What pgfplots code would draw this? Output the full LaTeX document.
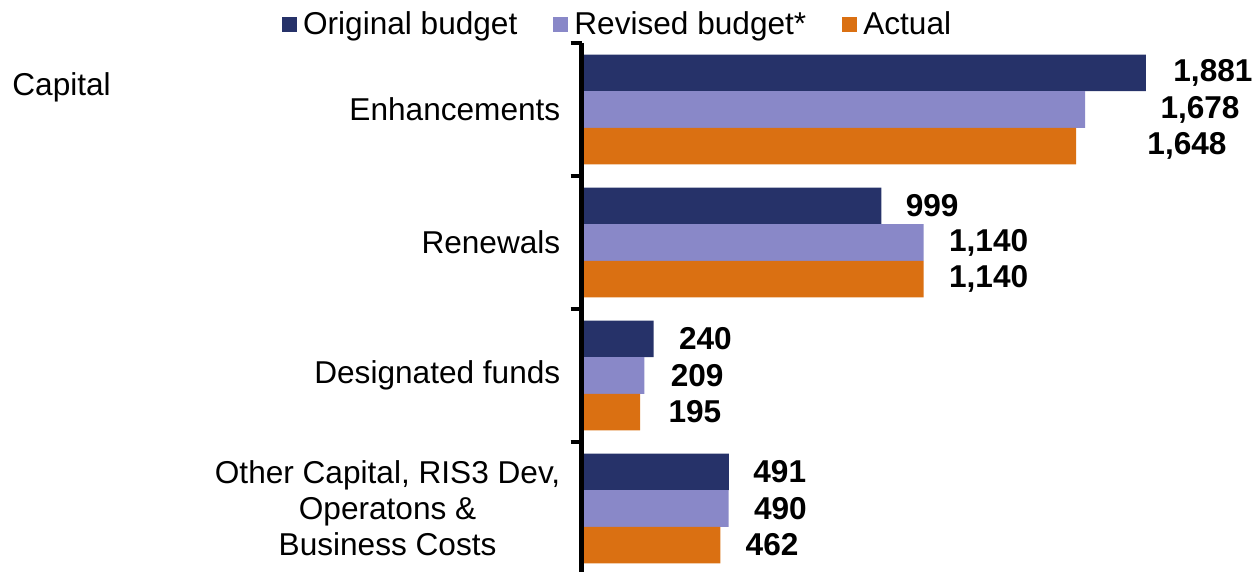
\documentclass[border=0pt]{standalone}
\usepackage{fontspec}
\setmainfont{Liberation Sans}
\usepackage{pgfplots}
\usepackage{pgfplotstable}
\pgfplotsset{compat=1.18}

\definecolor{orig}{RGB}{38,50,105}
\definecolor{revised}{RGB}{137,136,200}
\definecolor{actual}{RGB}{218,112,18}

% y: 3 = Enhancements ... 0 = Other; dx = label gap in pt
\pgfplotstableread{
y x dx
3 1881 13.5
2 999 12
1 240 12.5
0 491 12
}\origdata
\pgfplotstableread{
y x dx
3 1678 37.5
2 1140 12.5
1 209 13
0 490 12.5
}\reviseddata
\pgfplotstableread{
y x dx
3 1648 35.5
2 1140 12.5
1 195 14
0 462 12.5
}\actualdata

\newcommand{\lblfont}{\fontsize{15.8}{18}\selectfont}

\begin{document}
\begin{tikzpicture}
\begin{axis}[
name=ax,
scale only axis,
width=330pt, height=266pt,
xmin=0, xmax=2200,
ymin=-0.5, ymax=3.5,
axis on top,
axis x line=none,
axis y line*=left,
axis line style={line width=2.2pt, black},
every outer y axis line/.append style={line width=2.2pt, black},
xbar,
bar width=18.3pt,
clip=false,
ytick={0,1,2,3},
yticklabels={{Other Capital, RIS3 Dev,\\Operatons \&\\Business Costs},Designated funds,Renewals,Enhancements},
yticklabel style={font=\lblfont, align=center, inner sep=0pt, xshift=-10.5pt},
major tick length=0pt,
minor ytick={-0.5,0.5,1.5,2.5,3.5},
minor tick length=5.5pt,
tick align=outside,
tick style={line width=2pt, black},
minor tick style={line width=2pt, black},
point meta=x,
nodes near coords,
visualization depends on={\thisrow{dx} \as \dx},
every node near coord/.append style={font=\lblfont\bfseries, anchor=west, inner sep=0pt, xshift=\dx pt, /pgf/number format/assume math mode=true},
legend columns=3,
legend style={at={(axis description cs:0,1)}, anchor=south west, xshift=-150pt, yshift=1pt,
  draw=none, fill=none, font=\lblfont, inner sep=0pt,
  nodes={inner ysep=1.5pt, inner xsep=3pt},
  /tikz/every even column/.append style={column sep=15pt}},
legend image code/.code={\fill[#1] (0pt,-3.75pt) rectangle (7.5pt,3.75pt);},
]
\addplot[fill=orig, draw=none, bar shift=18.3pt] table[x=x, y=y] {\origdata};
\addplot[fill=revised, draw=none, bar shift=0pt] table[x=x, y=y] {\reviseddata};
\addplot[fill=actual, draw=none, bar shift=-18.3pt] table[x=x, y=y] {\actualdata};
\legend{Original budget, Revised budget*, Actual}
\end{axis}
\node[anchor=west, inner sep=0pt, font=\lblfont] at ([xshift=-284.85pt, yshift=-22pt]ax.north west) {Capital};
\pgfresetboundingbox
\path ([xshift=-290.85pt, yshift=21.5pt]ax.north west) rectangle ++(629.5pt,-286pt);
\end{tikzpicture}
\end{document}
